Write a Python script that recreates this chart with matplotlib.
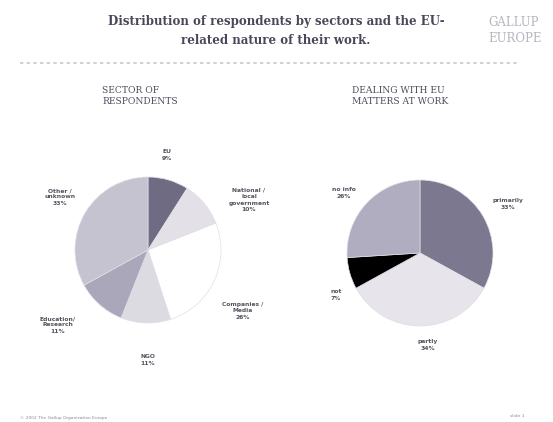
import matplotlib.pyplot as plt

# sector of respondents (left pie)
sector_labels = ['EU\n9%', 'National /\nlocal\ngovernment\n10%', 'Companies /\nMedia\n26%',
                 'NGO\n11%', 'Education/\nResearch\n11%', 'Other /\nunknown\n33%']
sector_values = [9, 10, 26, 11, 11, 33]
sector_colors = ['#6f6b82', '#e3e1e7', '#ffffff', '#dddbe2', '#aaa7ba', '#c6c3d1']

# dealing with EU matters at work (right pie)
work_labels = ['primarily\n33%', 'partly\n34%', 'not\n7%', 'no info\n26%']
work_values = [33, 34, 7, 26]
work_colors = ['#7c788f', '#e7e5eb', '#000000', '#b0adc0']

W, H = 553, 422
fig = plt.figure(figsize=(W / 100, H / 100), dpi=100)
fig.patch.set_facecolor('white')


def px(x, y):
    return x / W, 1 - y / H


def pie_axes(cx, cy, r):
    ax = fig.add_axes([(cx - r) / W, 1 - (cy + r) / H, 2 * r / W, 2 * r / H])
    return ax


def fix_limits(ax):
    ax.set_xlim(-1, 1)
    ax.set_ylim(-1, 1)
    ax.set_aspect('equal')
    ax.axis('off')


txt = '#55535f'
serif = 'DejaVu Serif'

# title
fig.text(*px(276, 31), 'Distribution of respondents by sectors and the EU-\nrelated nature of their work.',
         ha='center', va='center', fontsize=8.5, fontweight='bold', family=serif,
         color='#4a4858', linespacing=1.5)
fig.text(*px(488, 31), 'GALLUP\nEUROPE', ha='left', va='center', fontsize=8.5,
         family=serif, color='#b8b6c0', linespacing=1.3)
fig.add_artist(plt.Line2D([20 / W, 520 / W], [1 - 63 / H, 1 - 63 / H], color='#c9c7cf',
                          lw=1.2, ls=(0, (2, 2))))

# subtitles
fig.text(*px(102, 96), 'SECTOR OF\nRESPONDENTS', ha='left', va='center', fontsize=6.6,
         family=serif, color='#4e4c5a', linespacing=1.2)
fig.text(*px(352, 96), 'DEALING WITH EU\nMATTERS AT WORK', ha='left', va='center', fontsize=6.6,
         family=serif, color='#4e4c5a', linespacing=1.2)

# left pie
ax1 = pie_axes(148, 250, 73)
ax1.pie(sector_values, colors=sector_colors, startangle=90, counterclock=False, radius=1,
        wedgeprops={'linewidth': 0.5, 'edgecolor': '#e0dee6'})
fix_limits(ax1)

sector_pos = [(167, 155), (249, 200), (243, 311), (148, 360), (58, 325), (60, 197)]
for lab, (x, y) in zip(sector_labels, sector_pos):
    fig.text(*px(x, y), lab, ha='center', va='center', fontsize=4.3, color=txt,
             fontweight='bold', linespacing=1.35)

# right pie
ax2 = pie_axes(420, 253, 73)
ax2.pie(work_values, colors=work_colors, startangle=90, counterclock=False, radius=1,
        wedgeprops={'linewidth': 0.5, 'edgecolor': '#e0dee6'})
fix_limits(ax2)

work_pos = [(508, 204), (428, 345), (336, 295), (344, 193)]
for lab, (x, y) in zip(work_labels, work_pos):
    fig.text(*px(x, y), lab, ha='center', va='center', fontsize=4.3, color=txt,
             fontweight='bold', linespacing=1.35)

# footer
fig.text(*px(20, 418), '\u00a9 2002 The Gallup Organization Europe', ha='left', va='center',
         fontsize=3.2, color='#8a8896')
fig.text(*px(525, 416), 'slide 1', ha='right', va='center', fontsize=3.2, color='#8a8896')

fig.savefig('out.png', dpi=100, facecolor='white')
